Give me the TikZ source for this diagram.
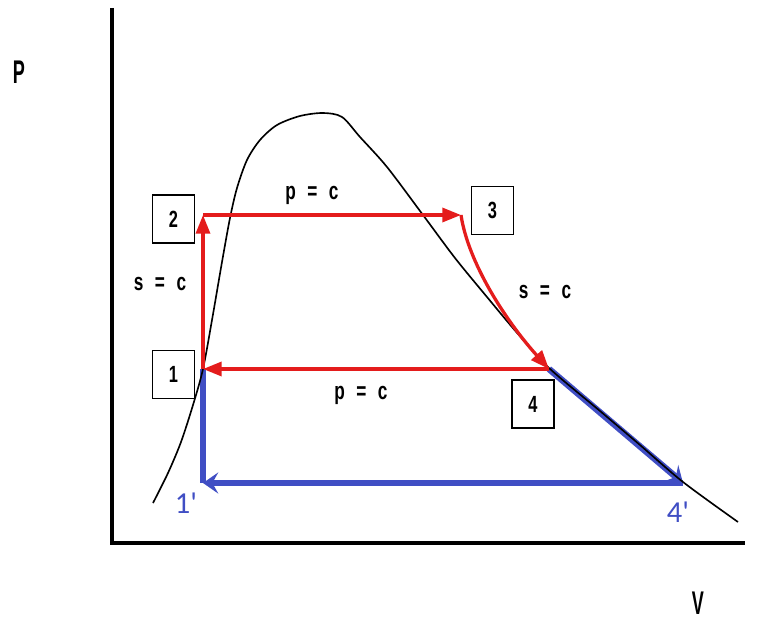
\documentclass[tikz,border=0pt]{standalone}
\usepackage{fontspec}
\newfontfamily\labelfont[FakeStretch=0.7,WordSpace=2.4]{Liberation Sans Bold}
\newfontfamily\axisfont[FakeStretch=0.55]{Liberation Sans Bold}
\newfontfamily\primefont{Carlito}
\definecolor{cyclered}{RGB}{228,28,28}
\definecolor{cycleblue}{RGB}{64,78,196}
\usetikzlibrary{arrows.meta}

\begin{document}
\begin{tikzpicture}[
  x=0.03cm, y=-0.03cm,
  axis/.style={line width=2.6pt},
  dome/.style={line width=1.4pt},
  redline/.style={draw=cyclered, line width=2.8pt, -{Triangle[length=16pt, width=12pt]}},
  blueline/.style={draw=cycleblue, line width=5.5pt},
  bluetip/.style={-{Stealth[length=13pt, width=18pt, inset=5pt]}},
  statebox/.style={draw, line width=1.2pt, minimum width=1.26cm, minimum height=1.44cm,
                   inner sep=0pt, font=\labelfont\fontsize{20}{22}\selectfont},
  proc/.style={font=\labelfont\fontsize{21}{24}\selectfont},
  axislabel/.style={font=\axisfont\fontsize{28}{30}\selectfont},
  primed/.style={text=cycleblue, font=\primefont\fontsize{26}{28}\selectfont}
]
\useasboundingbox (0,0) rectangle (760,622);

% Axes
\draw[axis] (112,8) |- (745,543);
\node[axislabel] (plabel) at (19,72) {P};
\node[axislabel] (vlabel) at (698,603) {V};

% State points
\coordinate (s1) at (203,369);
\coordinate (s2) at (203,215);
\coordinate (s3) at (461,215);
\coordinate (s4) at (549,369);
\coordinate (s1b) at (203,483);
\coordinate (s4b) at (683,483);

% Extra expansion (blue)
\draw[blueline] (s1) -- (s1b);
\draw[blueline, bluetip] (s4) -- (s4b);
\draw[blueline, bluetip] (s4b) -- (s1b);

% Saturation dome
\draw[dome] plot[smooth, tension=0.5] coordinates {
  (153,503) (168,473) (181,442) (193,405) (203,369) (212,320) (222,262)
  (230,218) (237,188) (247,160) (260,140) (277,125) (300,116) (323,113)
  (342,117) (360,137) (387,167) (423,215) (455,258) (487,297) (518,334)
  (549,368) (600,411) (640,445) (683,482) (738,522)};

% Cycle (red)
\draw[redline] (s1) -- (s2);
\draw[redline] (s2) -- (s3);
\draw[redline] (s3) .. controls (468,262) and (505,320) .. (s4);
\draw[redline] (s4) -- (s1);

% State boxes
\node[statebox] (b1) at (173.5,374.5) {1};
\node[statebox] (b2) at (173.5,219) {2};
\node[statebox] (b3) at (492.5,210.5) {3};
\node[statebox] (b4) at (533,404) {4};

% Process labels
\node[proc] (l12) at (160,284) {s = c};
\node[proc] (l23) at (312,195) {p = c};
\node[proc] (l34) at (545,292) {s = c};
\node[proc] (l41) at (361,395) {p = c};

% Primed states
\node[primed] (n1b) at (186,503) {1\textquotesingle};
\node[primed] (n4b) at (678,512) {4\textquotesingle};
\end{tikzpicture}
\end{document}
